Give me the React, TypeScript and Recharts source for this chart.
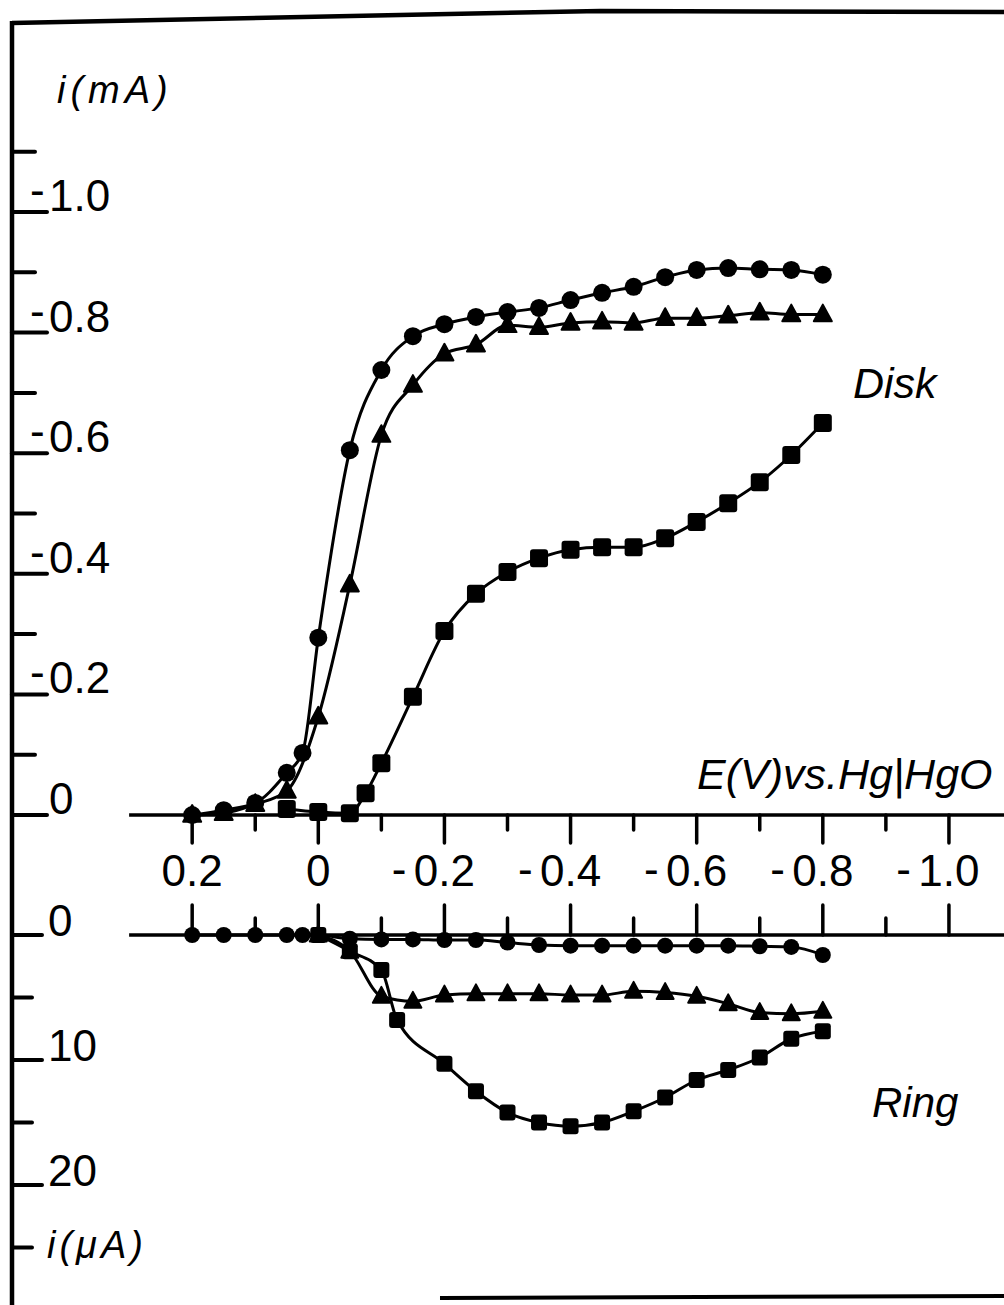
import React from "react";
import { ComposedChart, Line, XAxis, YAxis, ReferenceLine } from "recharts";

// Potential E (V vs. Hg/HgO) and currents.
// Disk currents in mA (cathodic, negative), ring currents in µA.
const diskCircleE = [0.2, 0.15, 0.1, 0.05, 0.025, 0, -0.05, -0.1, -0.15, -0.2, -0.25, -0.3, -0.35, -0.4, -0.45, -0.5, -0.55, -0.6, -0.65, -0.7, -0.75, -0.8];
const diskCircleI = [0, -0.008, -0.02, -0.07, -0.103, -0.294, -0.605, -0.738, -0.794, -0.814, -0.826, -0.834, -0.841, -0.854, -0.866, -0.876, -0.892, -0.904, -0.907, -0.905, -0.904, -0.896];

const diskTriangleE = [0.2, 0.15, 0.1, 0.05, 0, -0.05, -0.1, -0.15, -0.2, -0.25, -0.3, -0.35, -0.4, -0.45, -0.5, -0.55, -0.6, -0.65, -0.7, -0.75, -0.8];
const diskTriangleI = [0, -0.003, -0.018, -0.04, -0.163, -0.382, -0.63, -0.713, -0.765, -0.78, -0.812, -0.809, -0.816, -0.818, -0.816, -0.824, -0.824, -0.828, -0.833, -0.83, -0.83];

const diskSquareE = [0.05, 0, -0.05, -0.075, -0.1, -0.15, -0.2, -0.25, -0.3, -0.35, -0.4, -0.45, -0.5, -0.55, -0.6, -0.65, -0.7, -0.75, -0.8];
const diskSquareI = [-0.01, -0.005, -0.003, -0.036, -0.086, -0.196, -0.305, -0.367, -0.403, -0.426, -0.44, -0.444, -0.444, -0.459, -0.486, -0.517, -0.552, -0.597, -0.65];

const ringCircleE = diskCircleE;
const ringCircleI = [0, 0, 0, 0, 0, 0, 0.3, 0.35, 0.35, 0.4, 0.4, 0.6, 0.8, 0.85, 0.85, 0.85, 0.85, 0.85, 0.85, 0.9, 0.95, 1.6];

const ringTriangleE = [0, -0.05, -0.1, -0.15, -0.2, -0.25, -0.3, -0.35, -0.4, -0.45, -0.5, -0.55, -0.6, -0.65, -0.7, -0.75, -0.8];
const ringTriangleI = [0, 1.3, 4.9, 5.3, 4.8, 4.7, 4.7, 4.7, 4.8, 4.8, 4.5, 4.6, 4.9, 5.5, 6.2, 6.3, 6.1];

const ringSquareE = [0, -0.05, -0.1, -0.125, -0.2, -0.25, -0.3, -0.35, -0.4, -0.45, -0.5, -0.55, -0.6, -0.65, -0.7, -0.75, -0.8];
const ringSquareI = [0, 1.3, 2.8, 6.8, 10.3, 12.5, 14.2, 15.0, 15.3, 15.0, 14.1, 13.0, 11.6, 10.8, 9.8, 8.3, 7.7];

const xTicks = [0.2, 0.1, 0, -0.1, -0.2, -0.3, -0.4, -0.5, -0.6, -0.7, -0.8, -0.9, -1.0];
const diskYTicks = [-1.1, -1.0, -0.9, -0.8, -0.7, -0.6, -0.5, -0.4, -0.3, -0.2, -0.1, 0];
const ringYTicks = [0, 5, 10, 15, 20, 25];

// scale settings (E axis runs from positive on the left to negative on the right)
const X_DOMAIN: [number, number] = [-1.0873, 0.4857];
const DISK_DOMAIN: [number, number] = [-1.3234, 0];
const RING_DOMAIN: [number, number] = [0, 29.6];
const AXIS_START = 0.3;

const FONT = "'Liberation Sans', Arial, sans-serif";
const INK = "#000";

const zip = (es: number[], vs: number[]) => es.map((E, k) => ({ E, i: vs[k] }));

const circleDot = (r: number) => (p: any) => (
  <circle key={`c-${p.index}`} cx={p.cx} cy={p.cy} r={r} fill={INK} />
);

const triangleDot = (s: number) => (p: any) => (
  <polygon
    key={`t-${p.index}`}
    points={`${p.cx},${p.cy - s * 1.1} ${p.cx + s},${p.cy + s * 0.75} ${p.cx - s},${p.cy + s * 0.75}`}
    fill={INK}
    stroke={INK}
    strokeWidth={2}
    strokeLinejoin="round"
  />
);

const squareDot = (s: number) => (p: any) => (
  <rect key={`s-${p.index}`} x={p.cx - s} y={p.cy - s} width={s * 2} height={s * 2} rx={3} fill={INK} />
);

const DiskXTick = (props: any) => {
  const { x, y, payload } = props;
  const v: number = payload.value;
  const major = Math.round(v * 10) % 2 === 0;
  const num = v === 0 ? "0" : Math.abs(v).toFixed(1);
  return (
    <g>
      <line x1={x} x2={x} y1={y} y2={y + (major ? 28 : 15)} stroke={INK} strokeWidth={3.5} strokeLinecap="round" />
      {major && (
        <text x={x} y={y + 71} textAnchor="middle" fontSize={44} fill={INK} fontFamily={FONT}>
          {num}
        </text>
      )}
      {major && v < 0 && (
        <text x={x - 38} y={y + 69} textAnchor="end" fontSize={44} fill={INK} fontFamily={FONT}>
          -
        </text>
      )}
    </g>
  );
};

const RingXTick = (props: any) => {
  const { x, y, payload } = props;
  const major = Math.round(payload.value * 10) % 2 === 0;
  return <line x1={x} x2={x} y1={y} y2={y - (major ? 30 : 17)} stroke={INK} strokeWidth={3.5} strokeLinecap="round" />;
};

const DiskYTick = (props: any) => {
  const { x, y, payload } = props;
  const v: number = payload.value;
  const t = Math.round(-v * 10);
  const major = t % 2 === 0 && t <= 10;
  return (
    <g>
      <line x1={x} x2={x + (major ? 35 : 23)} y1={y} y2={y} stroke={INK} strokeWidth={4} strokeLinecap="round" />
      {major && v < 0 && (
        <text x={x + 18} y={y - 7} fontSize={44} fill={INK} fontFamily={FONT}>
          -
        </text>
      )}
      {major && (
        <text x={x + 37} y={y - 1} fontSize={44} fill={INK} fontFamily={FONT}>
          {v === 0 ? "0" : Math.abs(v).toFixed(1)}
        </text>
      )}
    </g>
  );
};

const RingYTick = (props: any) => {
  const { x, y, payload } = props;
  const v: number = payload.value;
  const major = v % 10 === 0;
  return (
    <g>
      <line x1={x} x2={x + (major ? 30 : 20)} y1={y} y2={y} stroke={INK} strokeWidth={4} strokeLinecap="round" />
      {major && (
        <text x={x + 36} y={y + 1} fontSize={44} fill={INK} fontFamily={FONT}>
          {String(v)}
        </text>
      )}
    </g>
  );
};

const lineProps = {
  type: "monotone" as const,
  dataKey: "i",
  stroke: INK,
  strokeWidth: 3,
  activeDot: false,
  isAnimationActive: false,
};

// axes are 1px thick boxes so that the custom ticks get drawn;
// margins are set so that the plot edges fall on the frame and the zero lines
export default function App() {
  return (
    <div style={{ position: "absolute", left: 0, top: 0, width: 1004, height: 1305, background: "#fff", fontFamily: FONT }}>
      {/* Disk panel */}
      <div style={{ position: "absolute", left: 0, top: 0 }}>
        <ComposedChart width={1004} height={900} margin={{ top: 17, right: 0, bottom: 84, left: 11 }}>
          <XAxis
            type="number"
            dataKey="E"
            domain={X_DOMAIN}
            reversed
            ticks={xTicks}
            interval={0}
            tickSize={0}
            tickMargin={0}
            tickLine={false}
            axisLine={false}
            height={1}
            tick={<DiskXTick />}
          />
          <YAxis
            type="number"
            domain={DISK_DOMAIN}
            reversed
            ticks={diskYTicks}
            interval={0}
            tickSize={0}
            tickMargin={0}
            tickLine={false}
            axisLine={false}
            width={1}
            tick={<DiskYTick />}
          />
          <ReferenceLine
            segment={[{ x: AXIS_START, y: 0 }, { x: X_DOMAIN[0], y: 0 }]}
            stroke={INK}
            strokeWidth={3.5}
            ifOverflow="visible"
          />
          <Line {...lineProps} data={zip(diskCircleE, diskCircleI)} dot={circleDot(9)} />
          <Line {...lineProps} data={zip(diskTriangleE, diskTriangleI)} dot={triangleDot(9)} />
          <Line {...lineProps} data={zip(diskSquareE, diskSquareI)} dot={squareDot(9)} />
        </ComposedChart>
      </div>

      {/* Ring panel */}
      <div style={{ position: "absolute", left: 0, top: 850 }}>
        <ComposedChart width={1004} height={455} margin={{ top: 84, right: 0, bottom: 0, left: 11 }}>
          <XAxis
            type="number"
            dataKey="E"
            orientation="top"
            domain={X_DOMAIN}
            reversed
            ticks={xTicks}
            interval={0}
            tickSize={0}
            tickMargin={0}
            tickLine={false}
            axisLine={false}
            height={1}
            tick={<RingXTick />}
          />
          <YAxis
            type="number"
            domain={RING_DOMAIN}
            reversed
            ticks={ringYTicks}
            interval={0}
            tickSize={0}
            tickMargin={0}
            tickLine={false}
            axisLine={false}
            width={1}
            tick={<RingYTick />}
          />
          <ReferenceLine
            segment={[{ x: AXIS_START, y: 0 }, { x: X_DOMAIN[0], y: 0 }]}
            stroke={INK}
            strokeWidth={3.5}
            ifOverflow="visible"
          />
          <Line {...lineProps} data={zip(ringCircleE, ringCircleI)} dot={circleDot(8)} />
          <Line {...lineProps} data={zip(ringTriangleE, ringTriangleI)} dot={triangleDot(8.5)} />
          <Line {...lineProps} data={zip(ringSquareE, ringSquareI)} dot={squareDot(8)} />
        </ComposedChart>
      </div>

      {/* frame and labels */}
      <svg width={1004} height={1305} style={{ position: "absolute", left: 0, top: 0, pointerEvents: "none" }}>
        <polyline points="12,23 400,15 600,11 1004,12" fill="none" stroke={INK} strokeWidth={4.5} />
        <line x1={12} y1={21} x2={12} y2={1305} stroke={INK} strokeWidth={4.5} />
        <line x1={440} y1={1298} x2={1004} y2={1296} stroke={INK} strokeWidth={4} />
        <g fontFamily={FONT} fill={INK} fontStyle="italic">
          <text x={57} y={103} fontSize={38} letterSpacing={5}>i(mA)</text>
          <text x={47} y={1258} fontSize={38} letterSpacing={4}>i(μA)</text>
          <text x={697} y={789} fontSize={43}>E(V)vs.Hg|HgO</text>
          <text x={853} y={398} fontSize={43}>Disk</text>
          <text x={872} y={1117} fontSize={42}>Ring</text>
        </g>
      </svg>
    </div>
  );
}
